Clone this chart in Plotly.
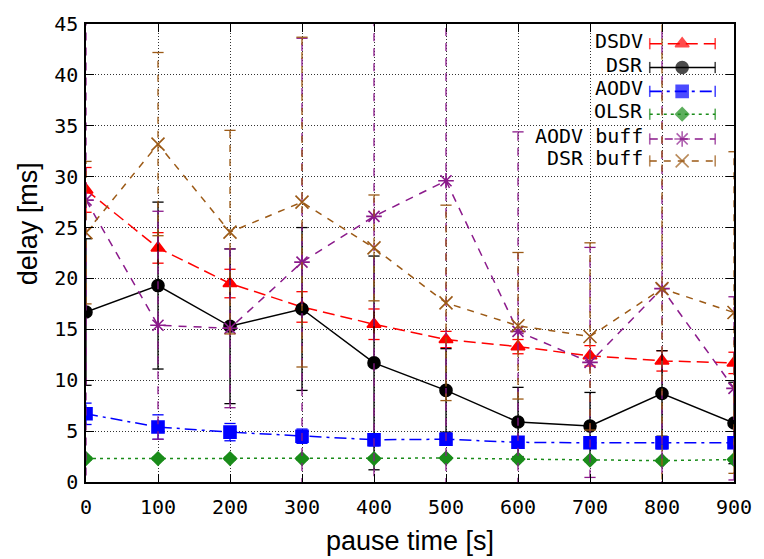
import plotly.graph_objects as go

# ---------------- data ----------------
pause_time = [0, 100, 200, 300, 400, 500, 600, 700, 800, 900]

dsdv = [28.7, 23.0, 19.5, 17.2, 15.5, 14.0, 13.3, 12.4, 11.9, 11.7]
dsdv_err = [2.2, 1.5, 1.4, 1.5, 1.5, 0.8, 0.7, 1.0, 1.0, 1.05]

dsr = [16.7, 19.3, 15.3, 17.0, 11.7, 9.0, 5.9, 5.5, 8.7, 5.8]
dsr_err = [7.2, 8.2, 7.6, 8.0, 10.5, 4.1, 3.4, 3.3, 4.2, 4.0]

aodv = [6.7, 5.4, 4.9, 4.5, 4.15, 4.2, 3.9, 3.85, 3.85, 3.85]
aodv_err = [1.05, 1.2, 0.85, 0.7, 0.6, 0.6, 0.5, 0.5, 0.6, 0.4]

olsr = [2.3, 2.3, 2.3, 2.3, 2.3, 2.35, 2.25, 2.15, 2.1, 2.2]
olsr_err = [0.15, 0.15, 0.15, 0.15, 0.15, 0.15, 0.15, 0.15, 0.15, 0.15]

aodv_buff = [27.7, 15.4, 15.1, 21.6, 26.1, 29.6, 14.8, 11.75, 19.0, 9.2]
aodv_buff_err = [30.0, 11.2, 7.8, 22.0, 27.0, 30.0, 19.6, 11.3, 30.0, 9.0]

dsr_buff = [24.5, 33.2, 24.55, 27.5, 23.0, 17.6, 15.35, 14.3, 19.0, 16.65]
dsr_buff_err = [7.0, 9.0, 10.0, 16.2, 5.2, 9.6, 7.2, 9.2, 27.0, 15.8]

series_names = ["DSDV", "DSR", "AODV", "OLSR", "AODV buff", "DSR buff"]

# ---------------- styles ----------------
styles = [
    dict(color="#ff0000", dash="12px,6px", symbol="triangle-up", size=12),
    dict(color="#000000", dash="solid", symbol="circle", size=12),
    dict(color="#0000ff", dash="12px,5px,3px,5px", symbol="square", size=12),
    dict(color="#1a8c1a", dash="3px,4px", symbol="diamond", size=10),
    dict(color="#8b1a8b", dash="8px,7px", symbol="asterisk-open", size=13),
    dict(color="#9c5a16", dash="7px,7px", symbol="x-thin-open", size=13),
]

data = [
    (dsdv, dsdv_err),
    (dsr, dsr_err),
    (aodv, aodv_err),
    (olsr, olsr_err),
    (aodv_buff, aodv_buff_err),
    (dsr_buff, dsr_buff_err),
]

fig = go.Figure()

for name, (vals, errs), st in zip(series_names, data, styles):
    ex, ey, cx, cy = [], [], [], []
    for xv, v, e in zip(pause_time, vals, errs):
        ex += [xv, xv, None]
        ey += [v - e, v + e, None]
        cx += [xv, xv]
        cy += [v - e, v + e]
    fig.add_trace(go.Scatter(
        x=ex, y=ey, mode="lines", showlegend=False, hoverinfo="skip",
        line=dict(color=st["color"], width=1.3, dash=st["dash"]),
    ))
    fig.add_trace(go.Scatter(
        x=cx, y=cy, mode="markers", showlegend=False, hoverinfo="skip",
        marker=dict(symbol="line-ew", size=8,
                    line=dict(color=st["color"], width=1.3)),
    ))
    fig.add_trace(go.Scatter(
        x=pause_time, y=vals, mode="lines+markers", name=name, showlegend=False,
        line=dict(color=st["color"], width=1.5, dash=st["dash"]),
        marker=dict(symbol=st["symbol"], size=st["size"], color=st["color"],
                    line=dict(color=st["color"], width=1.6)),
    ))

# ---------------- custom gnuplot-style key ----------------
key_rows = [0.957, 0.905, 0.853, 0.803, 0.749, 0.701]
key_x0, key_xm, key_x1 = 0.870, 0.920, 0.971
annotations = []
for name, st, ry in zip(series_names, styles, key_rows):
    fig.add_trace(go.Scatter(
        x=[key_x0, key_xm, key_x1], y=[ry, ry, ry], xaxis="x2", yaxis="y2",
        mode="lines+markers", showlegend=False, hoverinfo="skip",
        line=dict(color=st["color"], width=1.6, dash=st["dash"]),
        marker=dict(symbol=["line-ns", st["symbol"], "line-ns"],
                    size=[8, st["size"], 8], color=st["color"],
                    line=dict(color=st["color"], width=1.6)),
    ))
    annotations.append(dict(
        x=0.862, y=ry, xref="paper", yref="paper", text=name, showarrow=False,
        xanchor="right", yanchor="middle", yshift=3,
        font=dict(family="DejaVu Sans Mono", size=20, color="black"),
    ))

annotations.append(dict(
    x=-0.09, y=0.564, xref="paper", yref="paper", text="delay [ms]",
    showarrow=False, textangle=-90, xanchor="center", yanchor="middle",
    font=dict(family="Liberation Sans", size=27, color="black"),
))
annotations.append(dict(
    x=0.5, y=-0.129, xref="paper", yref="paper", text="pause time [s]",
    showarrow=False, xanchor="center", yanchor="middle",
    font=dict(family="Liberation Sans", size=27, color="black"),
))

axis_common = dict(
    showline=True, linecolor="black", linewidth=1.5, mirror="ticks",
    ticks="inside", ticklen=8, tickwidth=1, tickcolor="black",
    showgrid=True, gridcolor="#333333", gridwidth=1, griddash="1px,2px",
    zeroline=False,
    tickfont=dict(family="DejaVu Sans Mono", size=20, color="black"),
)

fig.update_layout(
    width=764, height=559,
    margin=dict(l=86, r=24, t=19, b=77),
    paper_bgcolor="white", plot_bgcolor="white",
    showlegend=False,
    xaxis=dict(range=[0, 900], tickmode="array", tickvals=pause_time,
               ticktext=[str(v) for v in pause_time], ticklabelstandoff=6,
               **axis_common),
    yaxis=dict(range=[0, 45], tickmode="linear", tick0=0, dtick=5,
               ticklabelstandoff=2, **axis_common),
    xaxis2=dict(overlaying="x", range=[0, 1], visible=False),
    yaxis2=dict(overlaying="y", range=[0, 1], visible=False),
    annotations=annotations,
    shapes=[dict(type="rect", xref="paper", yref="paper",
                 x0=0.722, x1=1.0, y0=0.674, y1=0.987,
                 fillcolor="white", line=dict(width=0), layer="between")],
)

fig.write_html("out.html")
